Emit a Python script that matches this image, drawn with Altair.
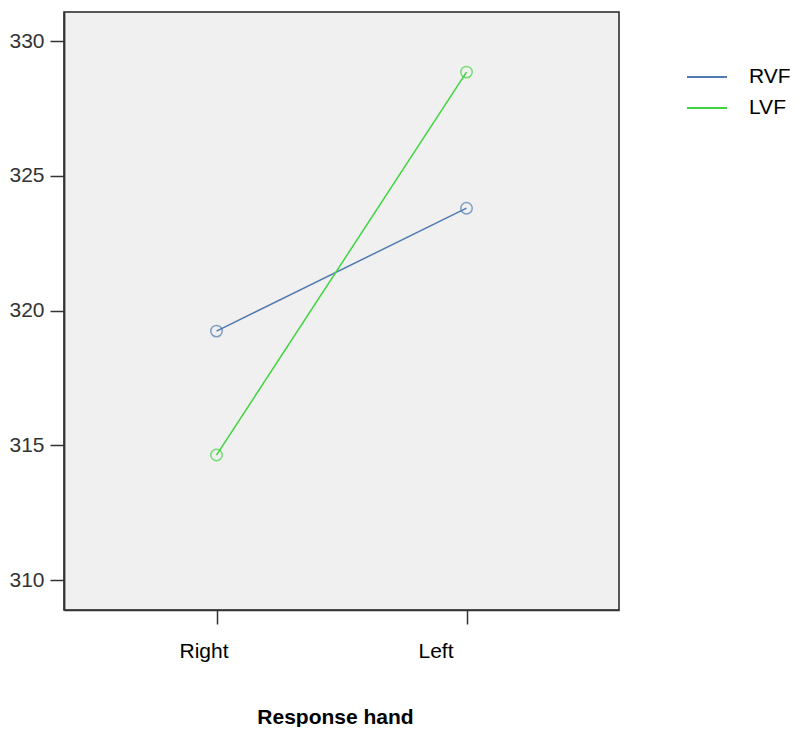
import altair as alt
import pandas as pd

hands = ["Right", "Left"]
rvf = [319.24, 323.80]
lvf = [314.64, 328.85]

rows = []
for h, v in zip(hands, rvf):
    rows.append({"hand": h, "field": "RVF", "value": v})
for h, v in zip(hands, lvf):
    rows.append({"hand": h, "field": "LVF", "value": v})
df = pd.DataFrame(rows)

FONT = "Liberation Sans"
cscale = alt.Scale(domain=["RVF", "LVF"], range=["#4f7bb0", "#3fd43f"])

color = alt.Color("field:N", scale=cscale,
                  legend=alt.Legend(title=None, orient="none", legendX=622, legendY=44,
                                    symbolType="stroke", symbolSize=1600, symbolStrokeWidth=1.8,
                                    labelFontSize=21, labelFont=FONT, labelColor="#000",
                                    rowPadding=-17, labelOffset=21))

x = alt.X("hand:N", sort=hands,
          scale=alt.Scale(type="point", padding=0.61),
          axis=alt.Axis(title="Response hand", titleFontSize=21, titleFont=FONT,
                        titleFontWeight="bold", titleColor="#000",
                        titleX=271, titleY=107, titleAlign="center", titleBaseline="middle",
                        labelAngle=0, labelFontSize=21, labelFont=FONT,
                        labelColor="#000", labelPadding=16,
                        labelOffset={"condition": {"test": "datum.value == 'Left'", "value": -31}, "value": -13},
                        tickSize=14, tickColor="#333",
                        domainColor="#333", domainWidth=1.5, tickWidth=1.5))
y = alt.Y("value:Q",
          scale=alt.Scale(domain=[308.89, 331.08], nice=False, zero=False),
          axis=alt.Axis(title=None, values=[310, 315, 320, 325, 330], grid=False,
                        labelFontSize=21, labelFont=FONT, labelColor="#333",
                        labelPadding=6, tickSize=14, tickColor="#333", tickWidth=1.5,
                        domainColor="#333", domainWidth=1.8))

base = alt.Chart(df)
lines = base.mark_line(strokeWidth=1.5).encode(x=x, y=y, color=color, detail="field:N")
pts = base.mark_point(filled=False, size=130, strokeWidth=1.5).encode(
    x=x, y=y, color=alt.Color("field:N", scale=cscale, legend=None))

chart = alt.layer(lines, pts).properties(
    width=555, height=598,
    autosize=alt.AutoSizeParams(type="none"),
    padding={"left": 56, "top": 4, "right": 171, "bottom": 117},
    background="white",
).configure_view(fill="#f0f0f0", stroke="#222", strokeWidth=1.5)

chart.save("out.html", embed_options={"renderer": "svg", "actions": False})
